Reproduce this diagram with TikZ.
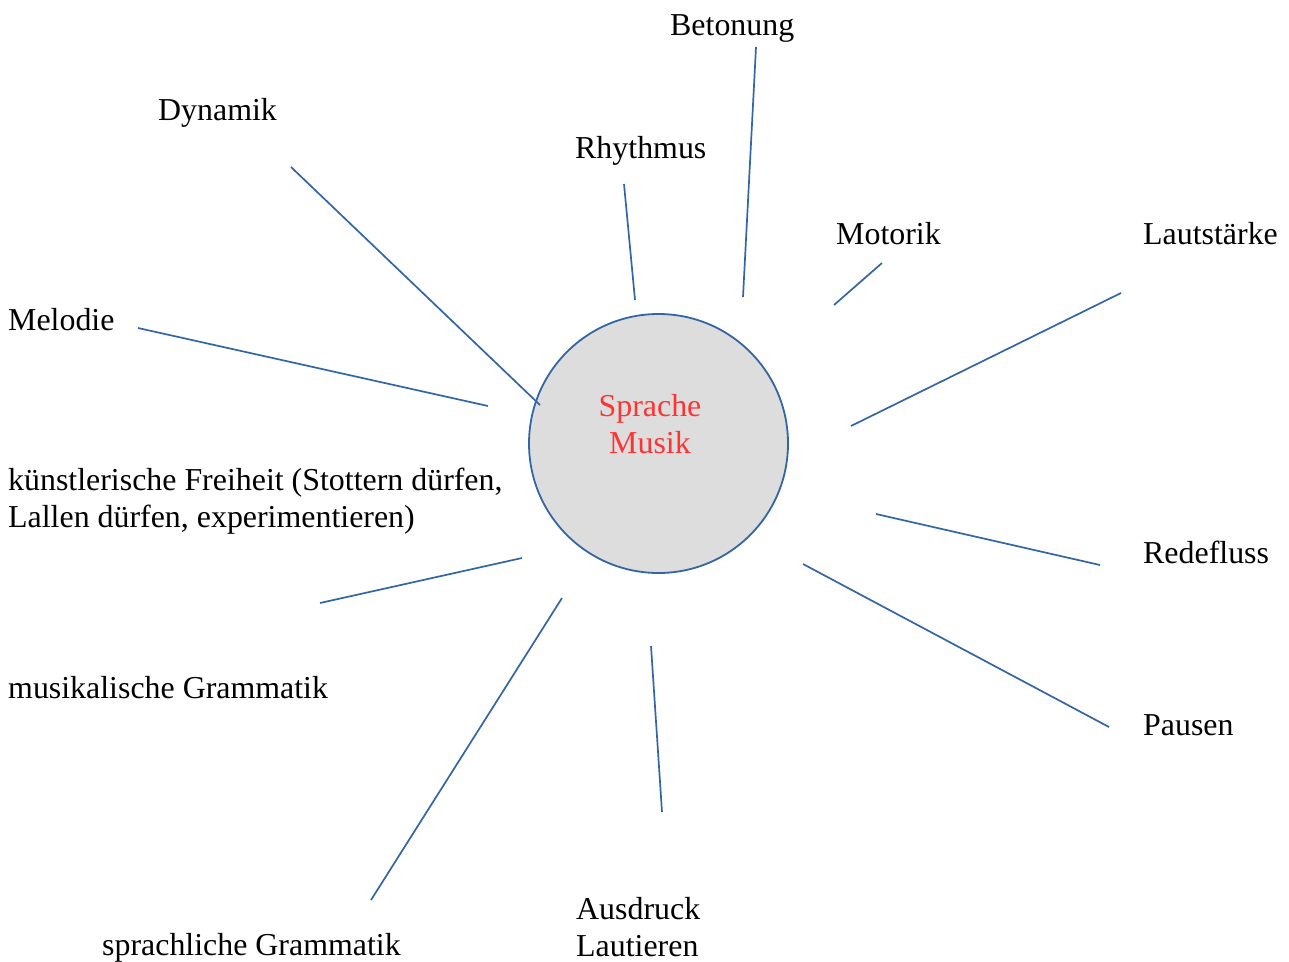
\documentclass[tikz,border=0pt]{standalone}
\usepackage{fontspec}
\setmainfont{Liberation Serif}
\definecolor{lineblue}{HTML}{3465A4}
\definecolor{circfill}{HTML}{DDDDDD}
\definecolor{labelred}{HTML}{FF3333}
\begin{document}
\begin{tikzpicture}[x=1pt,y=-1pt,
  lbl/.style={anchor=base west,inner sep=0pt,font=\fontsize{31.9}{36.5}\selectfont,align=left},
  spoke/.style={draw=lineblue,line width=1.7pt},
  hub/.style={circle,draw=lineblue,fill=circfill,line width=1.8pt,minimum size=259pt,inner sep=0pt}]
\useasboundingbox (0,0) rectangle (1289,961);
\node[hub] (c) at (658.5,443.5) {};
\node[anchor=base,inner sep=0pt,text=labelred,font=\fontsize{31.9}{36.5}\selectfont,align=center] (ct) at (650,453) {Sprache\\Musik};
% labels
\node[lbl] (betonung) at (670,35) {Betonung};
\node[lbl] (dynamik) at (158,120) {Dynamik};
\node[lbl] (rhythmus) at (575,158) {Rhythmus};
\node[lbl] (motorik) at (836,244) {Motorik};
\node[lbl] (laut) at (1143,244) {Lautstärke};
\node[lbl] (melodie) at (8,330) {Melodie};
\node[lbl] (kuenst) at (8,527) {künstlerische Freiheit (Stottern dürfen,\\Lallen dürfen, experimentieren)};
\node[lbl] (rede) at (1143,563) {Redefluss};
\node[lbl] (musgr) at (8,698) {musikalische Grammatik};
\node[lbl] (pausen) at (1143,735) {Pausen};
\node[lbl] (ausdruck) at (576,956) {Ausdruck\\Lautieren};
\node[lbl] (sprgr) at (102,955) {sprachliche Grammatik};
% spoke ends
\coordinate (d1) at (291,167); \coordinate (d2) at (540,405);
\coordinate (r1) at (624,184); \coordinate (r2) at (635,300);
\coordinate (b1) at (756,47);  \coordinate (b2) at (743,297);
\coordinate (m1) at (882,263); \coordinate (m2) at (834,305);
\coordinate (l1) at (1121,293); \coordinate (l2) at (851,426);
\coordinate (me1) at (138,328); \coordinate (me2) at (488,406);
\coordinate (re1) at (876,514); \coordinate (re2) at (1100,565);
\coordinate (p1) at (803,564); \coordinate (p2) at (1109,727);
\coordinate (k1) at (522,558); \coordinate (k2) at (320,603);
\coordinate (s1) at (562,598); \coordinate (s2) at (371,900);
\coordinate (a1) at (651,646); \coordinate (a2) at (662,812);
\draw[spoke] (d1) -- (d2);
\draw[spoke] (r1) -- (r2);
\draw[spoke] (b1) -- (b2);
\draw[spoke] (m1) -- (m2);
\draw[spoke] (l1) -- (l2);
\draw[spoke] (me1) -- (me2);
\draw[spoke] (re1) -- (re2);
\draw[spoke] (p1) -- (p2);
\draw[spoke] (k1) -- (k2);
\draw[spoke] (s1) -- (s2);
\draw[spoke] (a1) -- (a2);
\end{tikzpicture}
\end{document}
